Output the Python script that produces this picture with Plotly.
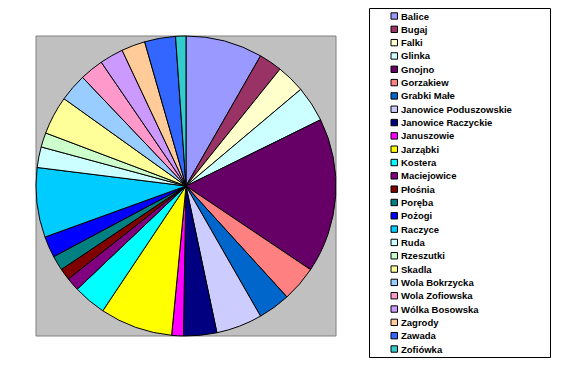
import plotly.graph_objects as go

labels = ["Balice", "Bugaj", "Falki", "Glinka", "Gnojno", "Gorzakiew", "Grabki Małe",
          "Janowice Poduszowskie", "Janowice Raczyckie", "Januszowie", "Jarząbki", "Kostera",
          "Maciejowice", "Płośnia", "Poręba", "Pożogi", "Raczyce", "Ruda", "Rzeszutki",
          "Skadla", "Wola Bokrzycka", "Wola Zofiowska", "Wólka Bosowska", "Zagrody",
          "Zawada", "Zofiówka"]
values = [29.8, 9.0, 11.1, 13.9, 60.1, 13.8, 12.5, 17.9, 12.9, 4.5, 28.2, 12.8,
          5.2, 4.5, 5.7, 8.2, 27.0, 8.0, 5.6, 14.9, 10.8, 9.2, 9.2, 9.2, 12.0, 4.0]
colors = ["#9999FF", "#993366", "#FFFFCC", "#CCFFFF", "#660066", "#FF8080", "#0066CC",
          "#CCCCFF", "#000080", "#FF00FF", "#FFFF00", "#00FFFF", "#800080", "#800000",
          "#008080", "#0000FF", "#00CCFF", "#CCFFFF", "#CCFFCC", "#FFFF99", "#99CCFF",
          "#FF99CC", "#CC99FF", "#FFCC99", "#3366FF", "#33CCCC"]

W, H = 574, 369
OFF = 8  # page body margin offset
px = lambda x: (x - OFF) / W
py = lambda y: 1 - (y - OFF) / H

fig = go.Figure(go.Pie(
    labels=labels, values=values, sort=False, direction="clockwise", rotation=0,
    marker=dict(colors=colors, line=dict(color="black", width=1)),
    textinfo="none", showlegend=False,
    domain=dict(x=[px(36), px(336)], y=[py(336), py(36)]),
))

shapes = [
    dict(type="rect", xref="paper", yref="paper", x0=px(36), x1=px(336), y0=py(336), y1=py(36),
         fillcolor="#C0C0C0", line=dict(color="#808080", width=1), layer="below"),
    dict(type="rect", xref="paper", yref="paper", x0=px(369.5), x1=px(550.5), y0=py(357.5), y1=py(8.5),
         fillcolor="white", line=dict(color="black", width=1), layer="below"),
]
annotations = []
y0, step = 16, 13.32
for i, (lab, col) in enumerate(zip(labels, colors)):
    yc = y0 + i * step
    shapes.append(dict(type="rect", xref="paper", yref="paper", x0=px(391), x1=px(397.5),
                       y0=py(yc + 3.2), y1=py(yc - 3.2), fillcolor=col,
                       line=dict(color="black", width=1), layer="above"))
    annotations.append(dict(x=px(399), y=py(yc), xref="paper", yref="paper", text=lab,
                            showarrow=False, xanchor="left", yanchor="middle",
                            font=dict(family="Liberation Sans, Arial", size=9.5, color="black",
                                      weight="bold")))

fig.update_layout(width=W, height=H, autosize=False, margin=dict(l=0, r=0, t=0, b=0),
                  paper_bgcolor="white", plot_bgcolor="white",
                  shapes=shapes, annotations=annotations)
fig.write_html("out.html")
